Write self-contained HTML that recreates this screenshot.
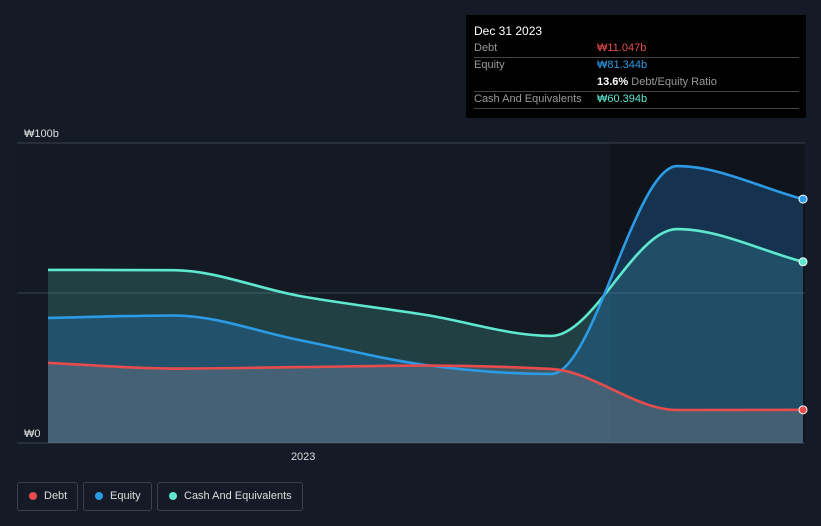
<!DOCTYPE html>
<html><head><meta charset="utf-8"><style>
body{margin:0;background:#151b26;font-family:"Liberation Sans","Noto Sans CJK KR",sans-serif;}
#wrap{position:relative;width:821px;height:526px;overflow:hidden;background:#151b26}
.tt{position:absolute;left:466px;top:15px;width:340px;height:103px;background:#000;color:#fff;font-size:11px}
.tt .row{position:absolute;left:8px;width:325px;border-bottom:1px solid #444;height:17px;line-height:17px}
.lbl{color:#999}
.legend{position:absolute;top:482px;height:27px;border:1px solid #3a414d;border-radius:3px;color:#ddd;font-size:11px;line-height:27px;padding:0 10px 0 26px}
.legend i{position:absolute;left:11px;top:9px;width:8px;height:8px;border-radius:50%}
</style></head><body>
<div id="wrap">
<svg id="svg" width="821" height="526" style="position:absolute;left:0;top:0"></svg>
<div class="tt">
<div style="position:absolute;left:8px;top:9px;font-size:12px">Dec 31 2023</div>
<div class="row" style="top:25px"><span class="lbl">Debt</span><span style="position:absolute;left:123px;color:#e64c4c">₩11.047b</span></div>
<div class="row" style="top:42px;border:none"><span class="lbl">Equity</span><span style="position:absolute;left:123px;color:#2c9be5">₩81.344b</span></div>
<div class="row" style="top:59px"><span style="position:absolute;left:123px"><b>13.6%</b> <span class="lbl">Debt/Equity Ratio</span></span></div>
<div class="row" style="top:76px"><span class="lbl">Cash And Equivalents</span><span style="position:absolute;left:123px;color:#5ee8cf">₩60.394b</span></div>
</div>
<div class="legend" style="left:17px"><i style="background:#e64c4c"></i>Debt</div>
<div class="legend" style="left:83px"><i style="background:#2c9be5"></i>Equity</div>
<div class="legend" style="left:157px"><i style="background:#5ee8cf"></i>Cash And Equivalents</div>
</div>
<script>
const dates=[2022.5,2022.75,2023.0,2023.25,2023.5,2023.75,2024.0];
const debt=[26.7,24.8,25.3,25.8,24.7,11.0,11.05];
const equity=[41.7,42.5,34.3,26.0,23.0,92.3,81.3];
const cash=[57.7,57.6,49.0,42.7,35.7,71.3,60.4];
const yTicks=[0,50,100];
const yTickLabels=["₩0","","₩100b"];
const xTicks=[2023.007];
const xTickLabels=["2023"];
const NS="http://www.w3.org/2000/svg";
const svg=document.getElementById('svg');
const X=t=>48+(t-2022.5)/1.5*755;
const Y=v=>443-v*3;
function mk(tag,attrs){const e=document.createElementNS(NS,tag);for(const k in attrs)e.setAttribute(k,attrs[k]);svg.appendChild(e);return e;}
const bg=mk('rect',{x:17,y:143,width:788,height:300,fill:'#131a24'});


const hl=mk('rect',{x:610,y:143,width:195,height:300,fill:'#0f141d'});


yTicks.forEach((v,i)=>{
 const l=mk('line',{x1:17,x2:805,y1:Y(v),y2:Y(v),stroke:'#3a414d','stroke-width':1});
 
 
 if(yTickLabels[i]){const t=mk('text',{x:24,y:Y(v)-6,fill:'#ddd','font-size':11});t.textContent=yTickLabels[i];
 
 }
});
xTicks.forEach((v,i)=>{const t=mk('text',{x:X(v),y:460,fill:'#ddd','font-size':11,'text-anchor':'middle'});t.textContent=xTickLabels[i];
 
 });
function path(vals){
 const xs=dates.map(X),ys=vals.map(Y),n=xs.length;
 const d=[],m=[];
 for(let i=0;i<n-1;i++)d.push((ys[i+1]-ys[i])/(xs[i+1]-xs[i]));
 for(let i=0;i<n;i++){
  if(i==0)m.push(d[0]);else if(i==n-1)m.push(d[n-2]);
  else if(d[i-1]*d[i]<=0)m.push(0);
  else{const h0=xs[i]-xs[i-1],h1=xs[i+1]-xs[i];const p=(d[i-1]*h1+d[i]*h0)/(h0+h1);
   m.push((Math.sign(d[i-1])+Math.sign(d[i]))*Math.min(Math.abs(d[i-1]),Math.abs(d[i]),0.5*Math.abs(p)));}
 }
 let s='M'+xs[0]+','+ys[0];
 for(let i=1;i<n;i++){const h=(xs[i]-xs[i-1])/3;
  s+=` C${xs[i-1]+h},${ys[i-1]+m[i-1]*h} ${xs[i]-h},${ys[i]-m[i]*h} ${xs[i]},${ys[i]}`;}
 return s;}
const series=[[cash,'#5ee8cf','rgba(80,200,180,0.22)','cash'],[equity,'#2c9be5','rgba(40,130,210,0.28)','equity'],[debt,'#e64c4c','rgba(120,120,132,0.42)','debt']];
series.forEach(([v,c,f,n])=>{
 const a=mk('path',{d:path(v)+` L${X(dates[dates.length-1])},${Y(0)} L${X(dates[0])},${Y(0)} Z`,fill:f});
 
 
});
series.forEach(([v,c,f,n])=>{
 const l=mk('path',{d:path(v),fill:'none',stroke:c,'stroke-width':2.6});
 
 
 const p=mk('circle',{cx:X(dates[dates.length-1]),cy:Y(v[v.length-1]),r:4,fill:c,stroke:'#fff','stroke-width':1});
 
 
});
</script>
</body></html>
